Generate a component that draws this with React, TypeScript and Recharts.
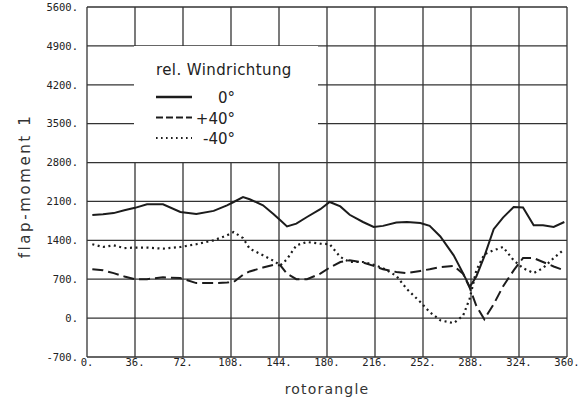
import React from "react";
import { LineChart, Line, XAxis, YAxis, CartesianGrid, Legend } from "recharts";

// Rotor angle in degrees at which the flap moment was sampled
const ANGLES = [
  4, 12, 20, 28, 36, 45, 57, 70, 82, 95, 105, 110, 117, 122, 132, 140, 145, 150,
  157, 165, 175, 182, 190, 197, 207, 215, 222, 232, 240, 250, 257, 265, 275, 282,
  287, 292, 298, 305, 312, 320, 327, 335, 342, 350, 358,
];

// Flap moment for relative wind direction 0°
const MOMENT_0 = [
  1855, 1870, 1890, 1940, 1985, 2050, 2050, 1910, 1875, 1930, 2030, 2090, 2180, 2140,
  2030, 1870, 1760, 1650, 1700, 1820, 1960, 2090, 2010, 1860, 1730, 1640, 1660, 1720,
  1730, 1710, 1660, 1470, 1130, 810, 560, 750, 1110, 1600, 1810, 2000, 1990, 1670,
  1670, 1640, 1730,
];

// Flap moment for relative wind direction +40°
const MOMENT_PLUS40 = [
  880, 860, 810, 750, 700, 700, 735, 720, 630, 630, 640, 650, 780, 840, 910, 960, 950,
  800, 700, 700, 800, 910, 1010, 1040, 1000, 940, 880, 830, 810, 850, 880, 920, 940,
  800, 550, 220, -20, 250, 570, 860, 1080, 1080, 1010, 930, 860,
];

// Flap moment for relative wind direction -40°
const MOMENT_MINUS40 = [
  1330, 1280, 1310, 1260, 1270, 1270, 1250, 1280, 1330, 1400, 1490, 1550, 1440, 1250,
  1130, 1030, 950, 1060, 1310, 1370, 1340, 1330, 1100, 1010, 1010, 960, 900, 760, 520,
  290, 110, -40, -90, 40, 350, 860, 1150, 1220, 1280, 1040, 900, 810, 900, 1080, 1240,
];

const X_TICKS = [0, 36, 72, 108, 144, 180, 216, 252, 288, 324, 360];
const Y_TICKS = [-700, 0, 700, 1400, 2100, 2800, 3500, 4200, 4900, 5600];

const data = ANGLES.map((angle, i) => ({
  angle,
  m0: MOMENT_0[i],
  p40: MOMENT_PLUS40[i],
  m40: MOMENT_MINUS40[i],
}));

const SERIES = [
  { key: "m0", name: "0°", dash: undefined as string | undefined, width: 2, legendDash: undefined as string | undefined, legendWidth: 2.5 },
  { key: "p40", name: "+40°", dash: "11 5", width: 2, legendDash: "7 3", legendWidth: 2 },
  { key: "m40", name: "-40°", dash: "2 3.5", width: 2.2, legendDash: "1.6 3.4", legendWidth: 1.8 },
];

const INK = "#1c1c1c";
const GRID = "#333";
const TICK_FONT = { fontFamily: "'DejaVu Sans Mono', monospace", fontSize: 10.5, fill: "#222" };
const TEXT_FONT = "'DejaVu Sans', sans-serif";

const fmt = (v: number) => `${v}.`;

function WindLegend() {
  return (
    <svg width={184} height={116} style={{ display: "block" }}>
      <text x={22} y={29} fontFamily={TEXT_FONT} fontSize={15} letterSpacing={0.4} fill="#222">
        rel. Windrichtung
      </text>
      {SERIES.map((s, i) => {
        const y = 51 + i * 20.5;
        return (
          <g key={s.key}>
            <line
              x1={22}
              x2={58}
              y1={y}
              y2={y}
              stroke={INK}
              strokeWidth={s.legendWidth}
              strokeDasharray={s.legendDash}
            />
            <text x={101} y={y + 6} textAnchor="end" fontFamily={TEXT_FONT} fontSize={15} fill="#222">
              {s.name}
            </text>
          </g>
        );
      })}
    </svg>
  );
}

function YTitle(props: any) {
  const vb = props.viewBox || { x: 0, y: 7, width: 87, height: 350 };
  const cx = vb.x + 25;
  const cy = vb.y + vb.height / 2 + 4;
  return (
    <text
      x={cx}
      y={cy}
      transform={`rotate(-90 ${cx} ${cy})`}
      textAnchor="middle"
      dominantBaseline="central"
      fontFamily={TEXT_FONT}
      fontSize={15}
      letterSpacing={2.6}
      fill="#333"
    >
      flap-moment 1
    </text>
  );
}

export default function App() {
  return (
    <div style={{ position: "absolute", left: 0, top: 0, background: "#fff" }}>
      <LineChart width={581} height={403} data={data} margin={{ top: 7, right: 14, left: 0, bottom: 0 }}>
        <CartesianGrid stroke={GRID} strokeWidth={1.3} horizontal vertical />
        <XAxis
          dataKey="angle"
          type="number"
          domain={[0, 360]}
          ticks={X_TICKS}
          interval={0}
          tickFormatter={fmt}
          axisLine={false}
          tickLine={false}
          tickSize={0}
          tickMargin={2}
          height={46}
          tick={TICK_FONT}
          label={{
            value: "rotorangle",
            position: "insideBottom",
            offset: 9,
            fontFamily: TEXT_FONT,
            fontSize: 14,
            letterSpacing: 1.2,
            fill: "#333",
          }}
        />
        <YAxis
          type="number"
          domain={[-700, 5600]}
          ticks={Y_TICKS}
          interval={0}
          tickFormatter={fmt}
          axisLine={false}
          tickLine={false}
          tickSize={0}
          tickMargin={9}
          width={87}
          tick={TICK_FONT}
          label={<YTitle />}
        />
        <Legend
          layout="vertical"
          verticalAlign="middle"
          align="center"
          wrapperStyle={{ left: 134, top: 46, width: 184, height: 116, background: "#fff" }}
          content={() => <WindLegend />}
        />
        {SERIES.map((s) => (
          <Line
            key={s.key}
            dataKey={s.key}
            name={s.name}
            type="linear"
            stroke={INK}
            strokeWidth={s.width}
            strokeDasharray={s.dash}
            dot={false}
            activeDot={false}
            isAnimationActive={false}
          />
        ))}
      </LineChart>
    </div>
  );
}
